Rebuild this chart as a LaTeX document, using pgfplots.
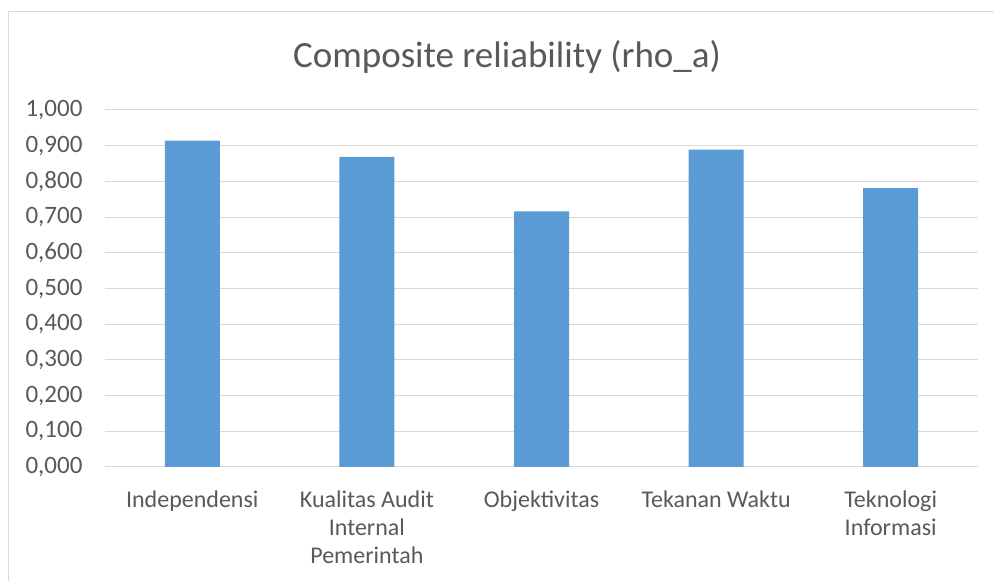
\documentclass[border=0pt]{standalone}
\usepackage{pgfplots}
\pgfplotsset{compat=1.18}
\usepackage{fontspec}
\setmainfont{Carlito}
\definecolor{barblue}{HTML}{5B9BD5}
\definecolor{gridgray}{HTML}{D9D9D9}
\definecolor{txtgray}{HTML}{595959}
\begin{document}
\begin{tikzpicture}[x=1pt,y=1pt]
\useasboundingbox (0,0) rectangle (994,581);
\draw[gridgray, line width=1pt] (8,-20) -- (8,569) -- (1020,569);
\node[txtgray, font=\fontsize{37}{42}\selectfont] at (507,524) {Composite reliability (rho\_a)};
\begin{axis}[
    at={(105pt,114pt)}, anchor=south west,
    scale only axis,
    width=873pt, height=357pt,
    xmin=-0.5, xmax=4.5,
    ymin=0, ymax=1,
    ytick={0,0.1,...,1.0},
    xtick={0,1,2,3,4},
    xticklabels={Independensi, {Kualitas Audit\\Internal\\Pemerintah}, Objektivitas, Tekanan Waktu, {Teknologi\\Informasi}},
    x tick label style={align=center, font=\fontsize{24}{28}\selectfont, text=txtgray, anchor=north, yshift=-20pt},
    y tick label style={font=\fontsize{25}{28}\selectfont, text=txtgray, xshift=-19pt},
    /pgf/number format/.cd, fixed, fixed zerofill, precision=3, use comma, assume math mode=true,
    /pgfplots/.cd,
    yticklabel style={/pgf/number format/1000 sep={}},
    axis line style={draw=none},
    axis x line*=bottom,
    x axis line style={draw=gridgray, line width=1pt},
    ymajorgrids=true,
    grid style={gridgray, line width=1pt},
    major tick length=0pt,
    ybar, bar width=55pt,
]
\addplot[fill=barblue, draw=none] coordinates {
(0,0.914) (1,0.869) (2,0.716) (3,0.889) (4,0.781)
};
\end{axis}
\end{tikzpicture}
\end{document}
